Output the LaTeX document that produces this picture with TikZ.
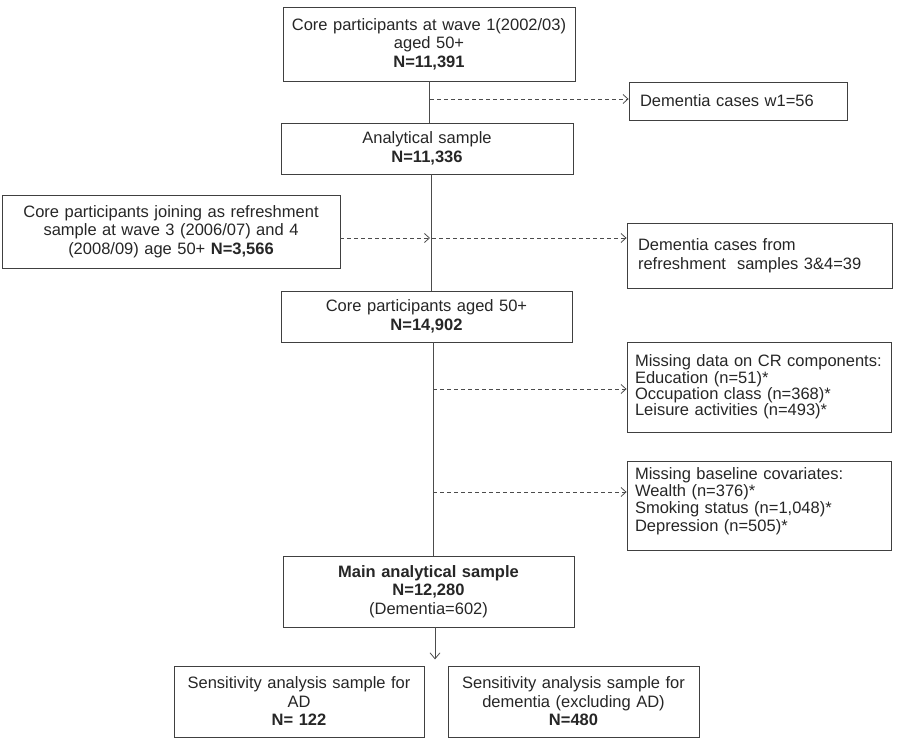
\documentclass[tikz,border=0pt]{standalone}
\usepackage{fontspec}
\setmainfont{Liberation Sans}
\usetikzlibrary{arrows.meta}

\begin{document}
\begin{tikzpicture}[x=1pt,y=-1pt,
    box/.style={draw=black!75,line width=0.8pt,text=black!85,inner sep=0pt,
      font=\fontsize{16.5}{18.5}\selectfont},
    cbox/.style={box,align=center},
    lbox/.style={box,align=left},
    flow/.style={draw=black!70,line width=0.8pt},
    dasharrow/.style={flow,dash pattern=on 4pt off 3pt,-{Straight Barb[length=5pt,width=9pt]}},
    solidarrow/.style={flow,-{Straight Barb[length=6pt,width=10pt]}}]
    \useasboundingbox (0,0) rectangle (900,741);

    % main column
    \node[cbox,text width=286pt,minimum width=292pt,minimum height=74pt] (wave1) at (429,44)
        {Core participants at wave 1(2002/03)\\ aged 50+\\ \textbf{N=11,391}};
    \node[cbox,text width=284pt,minimum width=292pt,minimum height=51pt] (anal) at (427,148.5)
        {Analytical sample\\ \textbf{N=11,336}};
    \node[cbox,text width=330pt,minimum width=338pt,minimum height=73pt] (refr) at (171,231.5)
        {Core participants joining as refreshment\\ sample at wave 3 (2006/07) and 4\\ (2008/09) age 50+ \textbf{N=3,566}};
    \node[cbox,text width=284pt,minimum width=291pt,minimum height=51pt] (core) at (426.5,316.5)
        {Core participants aged 50+\\ \textbf{N=14,902}};
    \node[cbox,text width=284pt,minimum width=291pt,minimum height=71pt] (main) at (428.5,591.5)
        {\textbf{Main analytical sample}\\ \textbf{N=12,280}\\ (Dementia=602)};
    \node[cbox,text width=244pt,minimum width=250pt,minimum height=71pt] (sensad) at (299,701.5)
        {Sensitivity analysis sample for\\ AD\\ \textbf{N= 122}};
    \node[cbox,text width=244pt,minimum width=251pt,minimum height=71pt] (sensdem) at (573.5,701.5)
        {Sensitivity analysis sample for\\ dementia (excluding AD)\\ \textbf{N=480}};

    % exclusions on the right
    \node[lbox,text width=196pt,minimum width=218pt,minimum height=38pt] (dem1) at (738,101)
        {Dementia cases w1=56};
    \node[lbox,text width=243pt,minimum width=265pt,minimum height=65pt] (demref) at (759.5,255.5)
        {Dementia cases from\\ refreshment\ \ samples 3\&4=39};
    \node[lbox,text width=248pt,minimum width=264pt,minimum height=90pt,
        font={\fontsize{16.5}{16.2}\selectfont\hyphenpenalty=10000\relax}] (miscr) at (759,387)
        {Missing data on CR components:\\ Education (n=51)*\\ Occupation class (n=368)*\\ Leisure activities (n=493)*};
    \node[lbox,text width=248pt,minimum width=264pt,minimum height=89pt,
        font=\fontsize{16.5}{17.3}\selectfont] (misbase) at (759,505.5)
        {Missing baseline covariates:\\ Wealth (n=376)*\\ Smoking status\ (n=1,048)*\\ Depression (n=505)*\par\vspace*{9pt}};

    % junctions on the vertical line
    \coordinate (j0) at (430,99);
    \coordinate (j1) at (432,238);
    \coordinate (j2) at (433,389);
    \coordinate (j3) at (433,492);

    \draw[flow] (wave1.south) -- (wave1.south |- anal.north);
    \draw[flow] ([xshift=4pt]anal.south) -- ([xshift=4pt]anal.south |- core.north);
    \draw[flow] ([xshift=6.5pt]core.south) -- ([xshift=6.5pt]core.south |- main.north);
    \draw[solidarrow] ([xshift=6.5pt]main.south) -- ([xshift=6.5pt,yshift=-32pt]main.south);

    \draw[dasharrow] (j0) -- (dem1.west |- j0);
    \draw[dasharrow,shorten >=2pt] (refr.east |- j1) -- (j1);
    \draw[dasharrow] (j1) -- (demref.west |- j1);
    \draw[dasharrow] (j2) -- (miscr.west |- j2);
    \draw[dasharrow] (j3) -- (misbase.west |- j3);
\end{tikzpicture}
\end{document}
